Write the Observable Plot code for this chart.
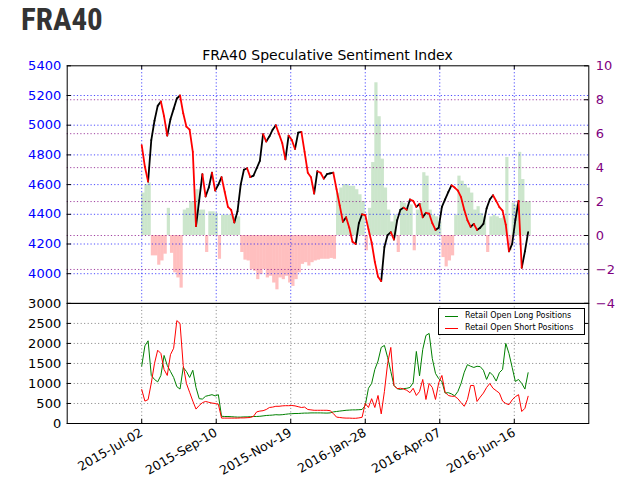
<!DOCTYPE html>
<html><head><meta charset="utf-8">
<script src="https://cdn.jsdelivr.net/npm/d3@7"></script>
<script src="https://cdn.jsdelivr.net/npm/@observablehq/plot@0.6"></script>
<style>
body{margin:0;background:#fff;}
#wrap{position:relative;width:624px;height:481px;overflow:hidden;font-family:"DejaVu Sans",sans-serif;background:#fff;}
#wrap svg{position:absolute;left:0;top:0;}
#brand{position:absolute;left:21px;top:4px;font-weight:bold;font-size:31px;line-height:31px;font-family:"Liberation Sans Narrow","Roboto Condensed",Roboto,sans-serif;color:#333;}
#title{position:absolute;left:66.7px;width:521.6px;top:48px;text-align:center;font-size:14px;line-height:14px;color:#000;}
#legend{position:absolute;left:438px;top:307.5px;width:145px;height:25px;border:1px solid #000;background:#fff;font-size:8px;line-height:10px;z-index:5;}
#legend .row{position:absolute;left:6px;height:10px;white-space:nowrap;}
#legend .sw{position:absolute;left:0;top:5px;width:13px;height:1px;}
#legend .tx{position:absolute;left:20px;top:0;}
</style></head>
<body>
<div id="wrap">
  <div id="brand">FRA40</div>
  <div id="title">FRA40 Speculative Sentiment Index</div>
  <div id="legend">
    <div class="row" style="top:2px"><div class="sw" style="background:green"></div><span class="tx">Retail Open Long Positions</span></div>
    <div class="row" style="top:14px"><div class="sw" style="background:red"></div><span class="tx">Retail Open Short Positions</span></div>
  </div>
</div>
<script>
// ---- data (one value every 3 days from startDate) ----
const startDate = "2015-07-02";
const price = [4866,4720,4620,4900,5030,5130,5160,5060,4930,5040,
 5110,5180,5200,5080,4990,4970,4820,4320,4494,4670,
 4520,4580,4680,4560,4600,4650,4550,4450,4430,4345,
 4420,4600,4700,4710,4650,4660,4710,4760,4940,4890,
 4925,4970,5000,4940,4880,4770,4930,4900,4840,4950,
 4955,4820,4680,4650,4540,4690,4680,4640,4670,4675,
 4680,4570,4460,4350,4380,4310,4215,4200,4340,4400,
 4395,4300,4210,4080,3980,3950,4180,4260,4280,4230,
 4360,4430,4445,4430,4500,4490,4450,4470,4380,4410,
 4405,4340,4295,4310,4450,4500,4550,4595,4580,4560,
 4515,4430,4360,4315,4335,4295,4310,4335,4440,4500,
 4528,4490,4448,4425,4330,4150,4200,4360,4490,4040,
 4150,4280];
const sentiment = [2.5,3.0,3.1,-1.2,-1.2,-1.75,-1.5,-1.1,1.6,-1.05,
 -2.2,-2.5,-3.1,1.5,1.6,2.0,2.0,2.7,1.5,1.5,
 -1.0,1.4,1.4,1.3,-1.4,1.2,1.2,1.2,1.2,1.1,
 1.1,-1.0,-1.45,-1.5,-2.0,-2.1,-2.6,-2.3,-2.0,-2.5,
 -2.4,-2.8,-3.2,-2.5,-2.6,-2.4,-2.8,-3.0,-2.6,-2.2,
 -1.7,-1.6,-1.8,-1.6,-1.5,-1.45,-1.4,-1.4,-1.4,-1.35,
 -1.4,2.5,2.8,3.0,3.0,2.9,2.9,2.7,2.4,2.0,
 -0.9,1.6,4.3,9.0,7.0,4.5,2.8,1.5,0.8,1.2,
 -1.0,2.0,1.9,1.6,1.8,-0.9,1.5,1.9,3.7,3.5,
 1.5,1.2,1.1,0.8,-1.3,-1.85,-1.5,-1.2,1.2,3.5,
 3.2,3.0,2.8,2.5,1.5,1.7,1.3,1.1,-1.0,1.1,
 1.2,1.1,1.0,1.1,4.6,-0.9,1.9,1.8,4.9,3.3,
 2.0,2.0];
const longPos = [1436,1940,2066,1200,1100,1040,1200,1700,1450,1300,
 1150,920,860,1400,1300,1150,1330,900,620,610,
 680,700,720,690,720,180,175,175,170,165,
 160,160,165,165,170,175,175,180,190,200,
 205,210,220,215,220,230,240,245,250,250,
 255,260,260,265,265,265,265,262,260,265,
 290,300,310,320,330,335,340,340,345,350,
 450,880,1000,1350,1560,1900,1950,1650,1300,950,
 870,850,870,880,900,1020,1800,1190,1850,2200,
 2250,1620,1250,1120,1050,760,770,740,690,800,
 1000,1280,1470,1430,1400,1430,1420,1330,1100,1280,
 1200,1060,1270,1350,2000,1750,1400,1050,1100,1000,
 860,1268];
const shortPos = [849,560,597,1010,1500,1830,1750,1350,1200,1720,
 1880,2570,2500,1450,1000,780,560,360,450,520,
 550,530,510,500,480,135,135,135,135,135,
 135,140,140,145,150,180,290,310,320,350,
 400,410,430,430,440,445,445,450,440,420,
 400,410,350,340,330,330,330,330,330,320,
 250,160,150,140,135,135,130,130,140,155,
 500,400,620,400,700,240,800,1500,1900,950,
 870,880,860,830,770,880,700,800,1100,600,
 1000,900,600,1016,1200,780,700,680,680,620,
 520,430,600,950,950,550,660,760,900,1000,
 880,820,760,560,500,470,590,670,720,300,
 380,680];
const tickDates = ["2015-07-02","2015-09-10","2015-11-19","2016-01-28","2016-04-07","2016-06-16"];
const tickLabels = ["2015-Jul-02","2015-Sep-10","2015-Nov-19","2016-Jan-28","2016-Apr-07","2016-Jun-16"];
const priceTicks = [4000,4200,4400,4600,4800,5000,5200,5400];
const sentTicks = [-4,-2,0,2,4,6,8,10];
const posTicks = [0,500,1000,1500,2000,2500,3000];

// ---- layout ----
const W = 624, H = 481, ML = 66.7, MR = 624 - 588.3;
const topTop = 65.3, topBot = 302.9, botBot = 423;
const X0 = new Date("2015-04-23"), X1 = new Date("2016-08-25");
const start = new Date(startDate);
const rows = price.map((p, i) => {
  const d = d3.utcDay.offset(start, 3 * i);
  return {date: d, end: d3.utcDay.offset(d, 3), price: p, senti: sentiment[i], long: longPos[i], short: shortPos[i]};
});
const segs = rows.slice(1).map((r, i) => ({x1: rows[i].date, y1: rows[i].price, x2: r.date, y2: r.price, down: r.price < rows[i].price}));
const tDates = tickDates.map(d => new Date(d));
const labelFor = new Map(tDates.map((d, i) => [+d, tickLabels[i]]));
const minus = v => v < 0 ? "\u2212" + Math.abs(v) : String(v);
const style = {background: "transparent", fontFamily: "DejaVu Sans", fontSize: "13px", overflow: "visible"};
const dash = "1.2,2.2";
const tk = 4; // days for inward tick length

const svgA = Plot.plot({
  width: W, height: H, marginLeft: ML, marginRight: MR, marginTop: topTop, marginBottom: H - topBot, style,
  x: {type: "utc", domain: [X0, X1], axis: null},
  y: {domain: [-4, 10], label: null, axis: null},
  marks: [
    Plot.rect(rows.filter(r => r.senti >= 0), {x1: "date", x2: "end", y1: 0, y2: "senti", fill: "green", fillOpacity: 0.2}),
    Plot.rect(rows.filter(r => r.senti < 0), {x1: "date", x2: "end", y1: 0, y2: "senti", fill: "red", fillOpacity: 0.25}),
    Plot.ruleY(sentTicks.filter(v => v > -4 && v < 10), {stroke: "purple", strokeOpacity: 0.75, strokeDasharray: dash}),
    Plot.ruleY(sentTicks, {x1: d3.utcDay.offset(X1, -tk), x2: X1, stroke: "black"}),
    Plot.axisY({anchor: "right", ticks: sentTicks, tickFormat: minus, tickSize: 0, tickPadding: 7, fill: "purple", fontSize: 13, label: null})
  ]
});

const svgB = Plot.plot({
  width: W, height: H, marginLeft: ML, marginRight: MR, marginTop: topTop, marginBottom: H - topBot, style,
  x: {type: "utc", domain: [X0, X1], axis: null},
  y: {domain: [3800, 5400], label: null, axis: null},
  marks: [
    Plot.ruleY(priceTicks.filter(v => v < 5400), {stroke: "blue", strokeOpacity: 0.7, strokeDasharray: dash}),
    Plot.ruleX(tDates, {stroke: "blue", strokeOpacity: 0.7, strokeDasharray: dash}),
    Plot.ruleX(tDates, {y1: 5400, y2: 5400 - 27, stroke: "black"}),
    Plot.ruleY(priceTicks, {x1: X0, x2: d3.utcDay.offset(X0, tk), stroke: "black"}),
    Plot.link(segs.filter(s => !s.down), {x1: "x1", y1: "y1", x2: "x2", y2: "y2", stroke: "black", strokeWidth: 1.8, strokeLinecap: "round"}),
    Plot.link(segs.filter(s => s.down), {x1: "x1", y1: "y1", x2: "x2", y2: "y2", stroke: "red", strokeWidth: 1.8, strokeLinecap: "round"}),
    Plot.axisY({anchor: "left", ticks: priceTicks, tickFormat: d => String(d), tickSize: 0, tickPadding: 6, fill: "blue", fontSize: 13, label: null}),
    Plot.frame({stroke: "black"})
  ]
});

const svgC = Plot.plot({
  width: W, height: H, marginLeft: ML, marginRight: MR, marginTop: topBot, marginBottom: H - botBot, style,
  x: {type: "utc", domain: [X0, X1]},
  y: {domain: [0, 3000], label: null},
  marks: [
    Plot.ruleY(posTicks.filter(v => v > 0 && v < 3000), {stroke: "black", strokeOpacity: 0.5, strokeDasharray: "1,2.5"}),
    Plot.ruleX(tDates, {stroke: "black", strokeOpacity: 0.5, strokeDasharray: "1,2.5"}),
    Plot.ruleX(tDates, {y1: 0, y2: 100, stroke: "black"}),
    Plot.ruleY(posTicks, {x1: X0, x2: d3.utcDay.offset(X0, tk), stroke: "black"}),
    Plot.ruleY(posTicks, {x1: d3.utcDay.offset(X1, -tk), x2: X1, stroke: "black"}),
    Plot.line(rows, {x: "date", y: "long", stroke: "green", strokeWidth: 1}),
    Plot.line(rows, {x: "date", y: "short", stroke: "red", strokeWidth: 1}),
    Plot.axisY({anchor: "left", ticks: posTicks, tickFormat: d => String(d), tickSize: 0, tickPadding: 6, fill: "black", fontSize: 13, label: null}),
    Plot.axisX({anchor: "bottom", ticks: tDates, tickFormat: d => labelFor.get(+d), tickRotate: -30, tickSize: 0, tickPadding: 8, fontSize: 12.5, label: null}),
    Plot.frame({stroke: "black"})
  ]
});

const wrap = document.getElementById("wrap");
const legend = document.getElementById("legend");
wrap.insertBefore(svgA, legend);
wrap.insertBefore(svgB, legend);
wrap.insertBefore(svgC, legend);
</script>
</body></html>
